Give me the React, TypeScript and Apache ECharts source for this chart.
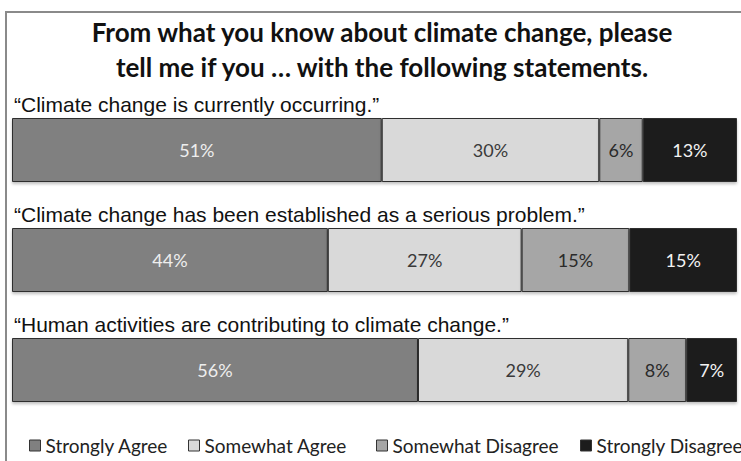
import React, { useEffect, useRef } from "react";
import * as echarts from "echarts";

const titleLines = [
  "From what you know about climate change, please",
  "tell me if you … with the following statements.",
];
const categories = [
  "“Climate change is currently occurring.”",
  "“Climate change has been established as a serious problem.”",
  "“Human activities are contributing to climate change.”",
];
const seriesNames = ["Strongly Agree", "Somewhat Agree", "Somewhat Disagree", "Strongly Disagree"];
const stronglyAgree = [51, 44, 56];
const somewhatAgree = [30, 27, 29];
const somewhatDisagree = [6, 15, 8];
const stronglyDisagree = [13, 15, 7];

const colors = ["#808080", "#d9d9d9", "#a6a6a6", "#1c1c1c"];
const labelColors = ["#eeeeee", "#3a3a3a", "#2a2a2a", "#f2f2f2"];
const legendLeft = [29, 188, 376, 580];

export default function App() {
  const ref = useRef<HTMLDivElement>(null);
  useEffect(() => {
    if (!ref.current) return;
    const chart = echarts.init(ref.current, null, { renderer: "svg" });
    const raw = [stronglyAgree, somewhatAgree, somewhatDisagree, stronglyDisagree];
    const sums = categories.map((_, i) => raw.reduce((s, arr) => s + arr[i], 0));
    const gridTop = 95;
    const band = 110;
    const series = raw.map((arr, k) => ({
      name: seriesNames[k],
      type: "bar",
      stack: "total",
      barWidth: 64,
      data: arr.map((v, i) => ({ value: (v / sums[i]) * 100, raw: v })),
      itemStyle: {
        color: colors[k],
        borderColor: "#2e2e2e",
        borderWidth: 1,
        shadowColor: "rgba(0,0,0,0.25)",
        shadowBlur: 3,
        shadowOffsetY: 2,
      },
      label: {
        show: true,
        position: "inside",
        formatter: (p: any) => p.data.raw + "%",
        color: labelColors[k],
        fontFamily: "Lato",
        fontSize: 18,
      },
    }));
    chart.setOption({
      animation: false,
      backgroundColor: "#ffffff",
      title: {
        text: titleLines.join("\n"),
        left: 377,
        textAlign: "center",
        top: 9,
        textStyle: {
          fontFamily: "Lato",
          fontWeight: "bold",
          fontSize: 26,
          lineHeight: 35,
          color: "#111111",
        },
      },
      legend: seriesNames.map((n, k) => ({
        data: [n],
        left: legendLeft[k],
        top: 436,
        padding: 0,
        itemWidth: 11,
        itemHeight: 11,
        itemGap: 5,
        icon: "rect",
        textStyle: { fontFamily: "Lato", fontSize: 19, color: "#222222" },
        itemStyle: { borderColor: "#333333", borderWidth: 1 },
      })),
      grid: { left: 12, right: 4, top: gridTop, height: band * categories.length },
      xAxis: { type: "value", min: 0, max: 100, show: false },
      yAxis: {
        type: "category",
        data: categories,
        inverse: true,
        show: false,
      },
      graphic: [
        {
          type: "rect",
          shape: { x: 6, y: 12, width: 780, height: 480 },
          style: { fill: "none", stroke: "#8a8a8a", lineWidth: 2 },
          silent: true,
        },
        ...categories.map((c, i) => ({
          type: "text",
          x: 14,
          y: gridTop + band * i + band / 2 - 46,
          style: {
            text: c,
            fontFamily: "Liberation Sans",
            fontSize: 21,
            fill: "#111111",
            verticalAlign: "middle",
            align: "left",
          },
        })),
      ],
      series,
    });
    return () => chart.dispose();
  }, []);
  return (
    <div
      ref={ref}
      style={{ position: "fixed", left: 0, top: 0, width: 741, height: 461 }}
    />
  );
}
